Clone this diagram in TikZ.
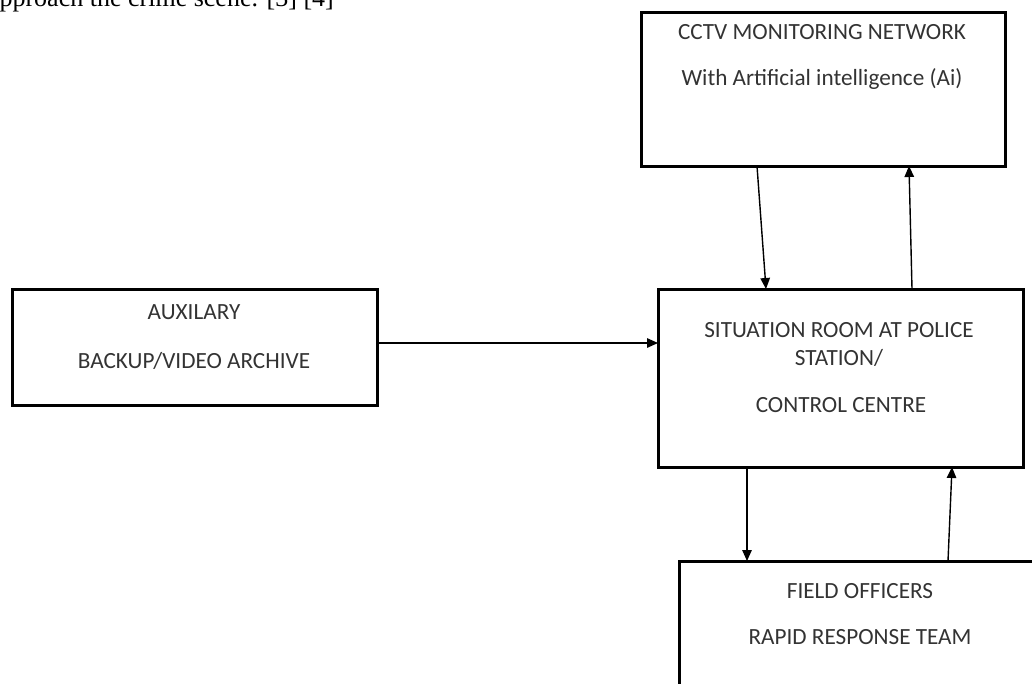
\documentclass[tikz,border=0pt]{standalone}
\usepackage{fontspec}
\setmainfont{Carlito}
\newfontfamily\serifreffont{Liberation Serif}
\usetikzlibrary{arrows.meta}
\tikzset{
  box/.style={draw=black, line width=3pt},
  lbl/.style={font=\fontsize{23.2}{28}\selectfont, text=black!80, anchor=base, inner sep=0pt},
  conn/.style={draw=black, line width=1.4pt, -{Triangle[length=11pt,width=9.5pt]}}
}
\begin{document}
\begin{tikzpicture}[x=1pt,y=-1pt]
\useasboundingbox (0,0) rectangle (1032,683);
\clip (0,0) rectangle (1032,683);
% clipped text line above the figure
\node[anchor=base east, inner sep=0pt, font=\serifreffont\fontsize{26}{30}\selectfont] (ref) at (334,6) {approach the crime scene. [3] [4]};
% boxes
\draw[box] (641,12) rectangle (1005,166);
\coordinate (cctvA) at (757,166);
\coordinate (cctvB) at (909,166);
\draw[box] (12,289) rectangle (377,405);
\coordinate (auxR) at (377,343);
\draw[box] (658,289) rectangle (1023,467);
\coordinate (sitL) at (658,343);
\coordinate (sitA) at (766,289);
\coordinate (sitB) at (912,289);
\coordinate (sitC) at (747,467);
\coordinate (sitD) at (952,467);
\draw[box] (679,561) rectangle (1050,700);
\coordinate (fldA) at (747,561);
\coordinate (fldB) at (948,561);
% texts
\node[lbl] (t1) at (822,39) {CCTV MONITORING NETWORK};
\node[lbl] (t2) at (822,85) {With Artificial intelligence (Ai)};
\node[lbl] (t3) at (194,319) {AUXILARY};
\node[lbl] (t4) at (194,368) {BACKUP/VIDEO ARCHIVE};
\node[lbl] (t5) at (839,337) {SITUATION ROOM AT POLICE};
\node[lbl] (t6) at (839,365) {STATION/};
\node[lbl] (t7) at (841,412) {CONTROL CENTRE};
\node[lbl] (t8) at (860,598) {FIELD OFFICERS};
\node[lbl] (t9) at (860,644) {RAPID RESPONSE TEAM};
% connectors
\draw[conn] (cctvA) -- (sitA);
\draw[conn] (sitB) -- (cctvB);
\draw[conn] (auxR) -- (sitL);
\draw[conn] (sitC) -- (fldA);
\draw[conn] (fldB) -- (sitD);
\end{tikzpicture}
\end{document}
